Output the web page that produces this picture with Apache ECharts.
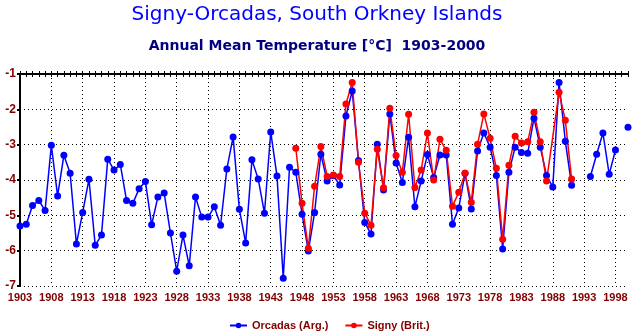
<!DOCTYPE html>
<html>
<head>
<meta charset="utf-8">
<script src="https://cdn.jsdelivr.net/npm/echarts@6/dist/echarts.min.js"></script>
<style>html,body{margin:0;padding:0;background:#fff}#c{width:634px;height:335px}</style>
</head>
<body>
<div id="c"></div>
<script>
const firstYear = 1903;
const lastYear = 2000;
const years = [];
for (let y = firstYear; y <= lastYear; y++) years.push(String(y));

const yTicks = [-7, -6, -5, -4, -3, -2, -1];

// Orcadas (Arg.) 1903..2000
const orcadas = [
  -5.30, -5.25, -4.72, -4.58, -4.86, -3.02, -4.45, -3.30, -3.81, -5.81,
  -4.92, -3.98, -5.85, -5.56, -3.41, -3.72, -3.56, -4.58, -4.66, -4.25,
  -4.04, -5.27, -4.48, -4.37, -5.50, -6.58, -5.56, -6.43, -4.48, -5.05,
  -5.05, -4.76, -5.28, -3.69, -2.78, -4.83, -5.78, -3.43, -3.97, -4.94,
  -2.64, -3.89, -6.78, -3.64, -3.78, -4.97, -6.01, -4.92, -3.27, -4.03,
  -3.88, -4.14, -2.19, -1.48, -3.45, -5.20, -5.53, -2.99, -4.28, -2.13,
  -3.52, -4.07, -2.79, -4.76, -4.03, -3.28, -3.93, -3.29, -3.29, -5.25,
  -4.79, -3.81, -4.82, -3.18, -2.67, -3.07, -3.87, -5.95, -3.78, -3.07,
  -3.22, -3.24, -2.25, -3.07, -3.87, -4.20, -1.24, -2.90, -4.15, null,
  null, -3.90, -3.27, -2.67, -3.84, -3.15, null, -2.51
];

// Signy (Brit.) 1947..1991
const signyStart = 1947;
const signy = [
  -3.10, -4.66, -5.93, -4.18, -3.05, -3.90, -3.86, -3.90, -1.85, -1.24,
  -3.50, -4.94, -5.28, -3.13, -4.22, -1.97, -3.31, -3.78, -2.14, -4.21,
  -3.72, -2.67, -4.00, -2.85, -3.16, -4.74, -4.35, -3.81, -4.63, -2.99,
  -2.13, -2.82, -3.67, -5.68, -3.58, -2.76, -2.95, -2.92, -2.08, -2.92,
  -4.03, null, -1.52, -2.31, -3.97
];

const signyFull = years.map(y => {
  const i = Number(y) - signyStart;
  return (i >= 0 && i < signy.length && signy[i] !== null) ? signy[i] : '-';
});
const orcadasFull = orcadas.map(v => v === null ? '-' : v);

const labelColor = '#800000';
const labelFont = 'Liberation Sans, Arial, sans-serif';
const dotted = { color: '#000', width: 1, type: [1, 3] };

const chart = echarts.init(document.getElementById('c'), null, { renderer: 'canvas' });
chart.setOption({
  animation: false,
  backgroundColor: '#fff',
  title: [
    {
      text: 'Signy-Orcadas, South Orkney Islands',
      left: 'center', top: 0,
      textStyle: { color: '#0000ff', fontSize: 20, fontWeight: 'normal', fontFamily: 'DejaVu Sans, sans-serif' }
    },
    {
      text: 'Annual Mean Temperature [°C]  1903-2000',
      left: 'center', top: 34,
      textStyle: { color: '#000080', fontSize: 14, fontWeight: 'bold', fontFamily: 'DejaVu Sans, sans-serif' }
    }
  ],
  legend: {
    top: 315, left: 224,
    itemWidth: 17, itemHeight: 7, itemGap: 16,
    data: ['Orcadas (Arg.)', 'Signy (Brit.)'],
    textStyle: { color: labelColor, fontWeight: 'bold', fontSize: 11, fontFamily: labelFont }
  },
  grid: { left: 20, right: 6, top: 74, bottom: 49, containLabel: false },
  xAxis: [
    {
      type: 'category', data: years, boundaryGap: false, position: 'bottom',
      axisLine: { show: false }, axisTick: { show: false },
      axisLabel: {
        interval: (i) => i % 5 === 0,
        color: labelColor, fontWeight: 'bold', fontSize: 11, fontFamily: labelFont, margin: 6,
        showMinLabel: true
      },
      splitLine: { show: true, interval: (i) => i % 5 === 0 && i > 0, lineStyle: dotted }
    },
    {
      type: 'category', data: years, boundaryGap: false, position: 'top',
      axisLine: { show: true, lineStyle: { color: '#000', width: 2 } },
      axisTick: { show: true, interval: 0, inside: true, length: 3, lineStyle: { color: '#000', width: 1 } },
      axisLabel: { show: false }, splitLine: { show: false }
    },
    {
      type: 'category', data: years, boundaryGap: false, position: 'top',
      axisLine: { show: false },
      axisTick: { show: true, interval: 0, inside: false, length: 3, lineStyle: { color: '#000', width: 1 } },
      axisLabel: { show: false }, splitLine: { show: false }
    }
  ],
  yAxis: {
    type: 'value', min: yTicks[0], max: yTicks[yTicks.length - 1], interval: 1,
    axisLine: { show: true, lineStyle: { color: '#000', width: 2 } },
    axisTick: { show: true, length: 3, lineStyle: { color: '#000', width: 2 } },
    axisLabel: { color: labelColor, fontWeight: 'bold', fontSize: 12, fontFamily: labelFont, margin: 4 },
    splitLine: { show: true, lineStyle: dotted }
  },
  series: [
    {
      name: 'Orcadas (Arg.)', type: 'line', data: orcadasFull, xAxisIndex: 0,
      connectNulls: false, symbol: 'circle', symbolSize: 7, showAllSymbol: true,
      lineStyle: { color: '#0000ff', width: 1.5 },
      itemStyle: { color: '#0000ff', borderWidth: 0 }
    },
    {
      name: 'Signy (Brit.)', type: 'line', data: signyFull, xAxisIndex: 0,
      connectNulls: true, symbol: 'circle', symbolSize: 7, showAllSymbol: true,
      lineStyle: { color: '#ff0000', width: 1.5 },
      itemStyle: { color: '#ff0000', borderWidth: 0 }
    }
  ]
});
</script>
</body>
</html>
